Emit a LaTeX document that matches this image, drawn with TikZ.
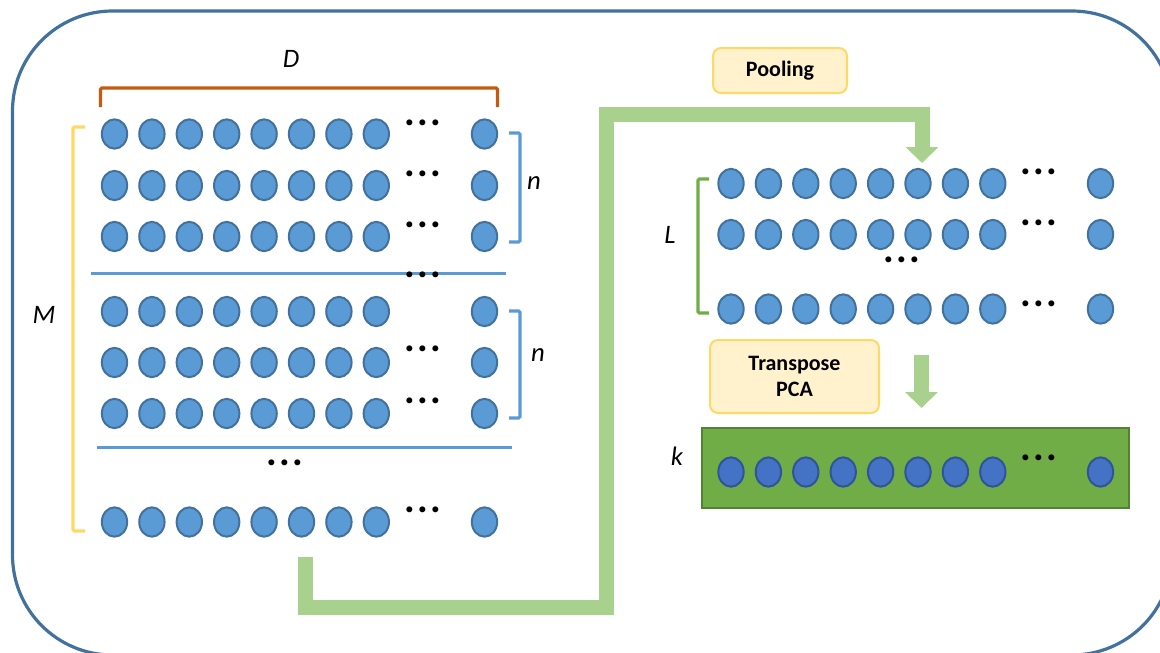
\documentclass[tikz,border=0pt]{standalone}
\usepackage{fontspec}
\setmainfont{Carlito}
\usetikzlibrary{shapes.geometric,arrows.meta}
\definecolor{frame}{HTML}{41719C}
\definecolor{cfill}{HTML}{5B9BD5}
\definecolor{cdraw}{HTML}{41719C}
\definecolor{dfill}{HTML}{4472C4}
\definecolor{ddraw}{HTML}{2F5597}
\definecolor{gfill}{HTML}{70AD47}
\definecolor{gdraw}{HTML}{548235}
\definecolor{flowc}{HTML}{A9D18E}
\definecolor{yfill}{HTML}{FFF2CC}
\definecolor{ydraw}{HTML}{FFD966}
\definecolor{orangec}{HTML}{C55A11}
\newcommand\mydots{.\kern1.6pt.\kern1.6pt.}
\begin{document}
\begin{tikzpicture}[x=0.75pt,y=-0.75pt,
  lc/.style={ellipse,draw=cdraw,fill=cfill,line width=1.5pt,minimum width=19pt,minimum height=22pt,inner sep=0pt},
  dc/.style={ellipse,draw=ddraw,fill=dfill,line width=1.5pt,minimum width=19pt,minimum height=22pt,inner sep=0pt},
  dotsnode/.style={font=\bfseries\fontsize{30}{30}\selectfont,inner sep=0pt,anchor=base},
  lbl/.style={font=\itshape\fontsize{20}{20}\selectfont,inner sep=0pt},
  opbox/.style={draw=ydraw,fill=yfill,line width=1.5pt,rounded corners=6pt,align=center,font=\bfseries\fontsize{16.5}{19}\selectfont},
  brk/.style={line width=2.4pt,rounded corners=1pt},
  flow/.style={draw=flowc,line width=11.25pt,line join=miter,-{Triangle[length=12pt,width=24pt]}}]
\useasboundingbox (0,0) rectangle (1160,653);
\begin{scope}
\clip (0,0) rectangle (1160,653);
\draw[frame,line width=2.4pt,rounded corners=75pt] (12.5,11) rectangle (1172,655);
\end{scope}
% left grid
\foreach \r/\y in {1/134,2/185.5,3/236.5,4/311.5,5/362.5,6/413.5,7/522}{
  \foreach \c in {0,...,7}{
    \node[lc] (A\r-\c) at ({114.5+37.4*\c},\y) {};
  }
  \node[lc] (A\r-L) at (484.5,\y) {};
}
\foreach \n/\y in {1/122,2/173,3/224,5/348,6/400,7/509}{
  \node[dotsnode] (Ad\n) at (423,\y+3) {\mydots};
}
\draw[cfill,line width=2.25pt] (91,273) -- (506,273);
\node[dotsnode] (Adsep1) at (423,277) {\mydots};
\draw[cfill,line width=2.25pt] (97,447) -- (512,447);
\node[dotsnode] (Adsep2) at (285,465) {\mydots};
% brackets left
\draw[brk,orangec] (100.5,107) -- (100.5,88) -- (497.5,88) -- (497.5,107);
\node[lbl] (D) at (291,59) {D};
\draw[brk,cfill] (509,133) -- (520,133) -- (520,242) -- (509,242);
\node[lbl] (n1) at (534,183) {n};
\draw[brk,cfill] (509,311) -- (520,311) -- (520,418) -- (509,418);
\node[lbl] (n2) at (538,355) {n};
\draw[brk,ydraw] (85,127) -- (73,127) -- (73,531) -- (85,531);
\node[lbl] (M) at (44,315) {M};
% right grid
\foreach \r/\y in {1/183.5,2/234.5,3/309}{
  \foreach \c in {0,...,7}{
    \node[lc] (B\r-\c) at ({731+37.4*\c},\y) {};
  }
  \node[lc] (B\r-L) at (1100.5,\y) {};
}
\foreach \n/\y in {1/171,2/222,3/303}{
  \node[dotsnode] (Bd\n) at (1039,\y+3) {\mydots};
}
\node[dotsnode] (Bdm) at (902,262) {\mydots};
\draw[brk,gfill] (709,179) -- (698,179) -- (698,313) -- (709,313);
\node[lbl] (L) at (670,235) {L};
% result
\node[draw=gdraw,fill=gfill,line width=1.5pt,minimum width=320pt,minimum height=60pt,inner sep=0pt] (R) at (915.5,467.5) {};
\foreach \c in {0,...,7}{
  \node[dc] (C\c) at ({731+37.4*\c},472) {};
}
\node[dc] (C-L) at (1100.5,472) {};
\node[dotsnode] (Cd) at (1039,460) {\mydots};
\node[lbl] (k) at (677,456) {k};
% op boxes
\node[opbox,minimum width=100.5pt,minimum height=33.75pt] (pool) at (780,70.5) {Pooling};
\node[opbox,minimum width=126.75pt,minimum height=54.75pt] (tp) at (794.5,376.5) {Transpose\\PCA};
% flows
\coordinate (p0) at (305,557);
\coordinate (p1) at (606,607);
\coordinate (p2) at (606,114);
\coordinate (p3) at (922,163);
\draw[flow] (p0) |- (p1) -- (p2) -| (p3);
\coordinate (q0) at (921.5,355);
\coordinate (q1) at (921.5,408);
\draw[flow] (q0) -- (q1);
\end{tikzpicture}
\end{document}
